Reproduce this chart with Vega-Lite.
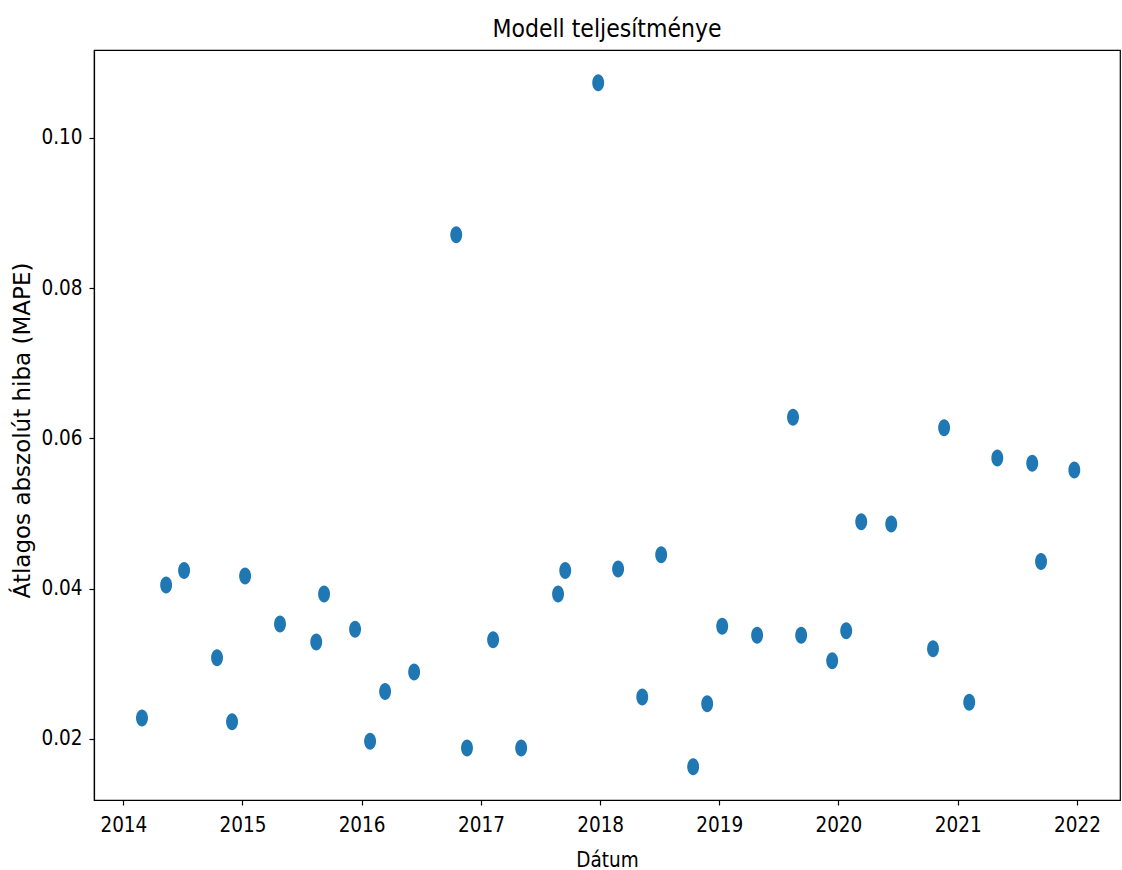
{
  "$schema": "https://vega.github.io/schema/vega-lite/v6.json",
  "autosize": "none",
  "width": 1026,
  "height": 750,
  "padding": {"left": 94, "top": 50, "right": 2, "bottom": 70},
  "background": "white",
  "title": {
    "text": "Modell teljesítménye",
    "font": "DejaVu Sans Condensed, DejaVu Sans",
    "fontSize": 24.5,
    "fontWeight": "normal",
    "color": "black",
    "anchor": "middle",
    "frame": "group",
    "baseline": "bottom",
    "offset": -16
  },
  "data": {
    "values": [
      {"date": "2014-02-27", "mape": 0.0228},
      {"date": "2014-05-12", "mape": 0.0405},
      {"date": "2014-07-06", "mape": 0.0424},
      {"date": "2014-10-15", "mape": 0.0308},
      {"date": "2014-11-30", "mape": 0.0223},
      {"date": "2015-01-09", "mape": 0.0417},
      {"date": "2015-04-26", "mape": 0.0353},
      {"date": "2015-08-15", "mape": 0.0329},
      {"date": "2015-09-08", "mape": 0.0393},
      {"date": "2015-12-12", "mape": 0.0346},
      {"date": "2016-01-27", "mape": 0.0197},
      {"date": "2016-03-13", "mape": 0.0263},
      {"date": "2016-06-10", "mape": 0.0289},
      {"date": "2016-10-17", "mape": 0.0871},
      {"date": "2016-11-19", "mape": 0.0188},
      {"date": "2017-02-07", "mape": 0.0332},
      {"date": "2017-05-04", "mape": 0.0188},
      {"date": "2017-08-25", "mape": 0.0393},
      {"date": "2017-09-16", "mape": 0.0424},
      {"date": "2017-12-26", "mape": 0.1073},
      {"date": "2018-02-25", "mape": 0.0426},
      {"date": "2018-05-10", "mape": 0.0256},
      {"date": "2018-07-07", "mape": 0.0445},
      {"date": "2018-10-13", "mape": 0.0163},
      {"date": "2018-11-25", "mape": 0.0247},
      {"date": "2019-01-10", "mape": 0.0350},
      {"date": "2019-04-27", "mape": 0.0338},
      {"date": "2019-08-15", "mape": 0.0628},
      {"date": "2019-09-09", "mape": 0.0338},
      {"date": "2019-12-13", "mape": 0.0304},
      {"date": "2020-01-25", "mape": 0.0344},
      {"date": "2020-03-11", "mape": 0.0489},
      {"date": "2020-06-11", "mape": 0.0486},
      {"date": "2020-10-17", "mape": 0.0320},
      {"date": "2020-11-20", "mape": 0.0614},
      {"date": "2021-02-05", "mape": 0.0249},
      {"date": "2021-05-02", "mape": 0.0574},
      {"date": "2021-08-17", "mape": 0.0567},
      {"date": "2021-09-13", "mape": 0.0436},
      {"date": "2021-12-24", "mape": 0.0558}
    ]
  },
  "mark": {
    "type": "point",
    "filled": true,
    "color": "#1f77b4",
    "opacity": 1,
    "strokeWidth": 0,
    "size": 289,
    "shape": "M -0.7 0 A 0.7 1 0 1 0 0.7 0 A 0.7 1 0 1 0 -0.7 0 Z"
  },
  "encoding": {
    "x": {
      "field": "date",
      "type": "temporal",
      "scale": {
        "type": "utc",
        "domain": [
          {"year": 2013, "month": 10, "date": 3, "utc": true},
          {"year": 2022, "month": 5, "date": 13, "utc": true}
        ],
        "nice": false
      },
      "axis": {
        "title": "Dátum",
        "format": "%Y",
        "formatType": "utc",
        "values": [
          {"year": 2014, "month": 1, "date": 1, "utc": true},
          {"year": 2015, "month": 1, "date": 1, "utc": true},
          {"year": 2016, "month": 1, "date": 1, "utc": true},
          {"year": 2017, "month": 1, "date": 1, "utc": true},
          {"year": 2018, "month": 1, "date": 1, "utc": true},
          {"year": 2019, "month": 1, "date": 1, "utc": true},
          {"year": 2020, "month": 1, "date": 1, "utc": true},
          {"year": 2021, "month": 1, "date": 1, "utc": true},
          {"year": 2022, "month": 1, "date": 1, "utc": true}
        ],
        "grid": false,
        "labelPadding": 10,
        "labelFlush": false,
        "labelOverlap": false,
        "titleFontSize": 20.5,
        "titleY": 66,
        "titleBaseline": "alphabetic"
      }
    },
    "y": {
      "field": "mape",
      "type": "quantitative",
      "scale": {"domain": [0.01188, 0.11167], "nice": false, "zero": false},
      "axis": {
        "title": "Átlagos abszolút hiba (MAPE)",
        "values": [0.02, 0.04, 0.06, 0.08, 0.10],
        "format": ".2f",
        "grid": false,
        "labelPadding": 7,
        "labelFlush": false,
        "labelOverlap": false,
        "titleFont": "DejaVu Sans",
        "titleFontSize": 23,
        "titleX": -65,
        "titleY": 380,
        "titleBaseline": "alphabetic",
        "titleAngle": 270
      }
    }
  },
  "config": {
    "view": {"stroke": "black", "strokeWidth": 1.2},
    "axis": {
      "domainColor": "black",
      "domainWidth": 1.2,
      "tickColor": "black",
      "tickWidth": 1.2,
      "tickSize": 5,
      "labelFont": "DejaVu Sans Condensed, DejaVu Sans",
      "labelFontSize": 20.5,
      "labelColor": "black",
      "titleFont": "DejaVu Sans Condensed, DejaVu Sans",
      "titleFontSize": 22,
      "titleFontWeight": "normal",
      "titleColor": "black"
    }
  }
}
